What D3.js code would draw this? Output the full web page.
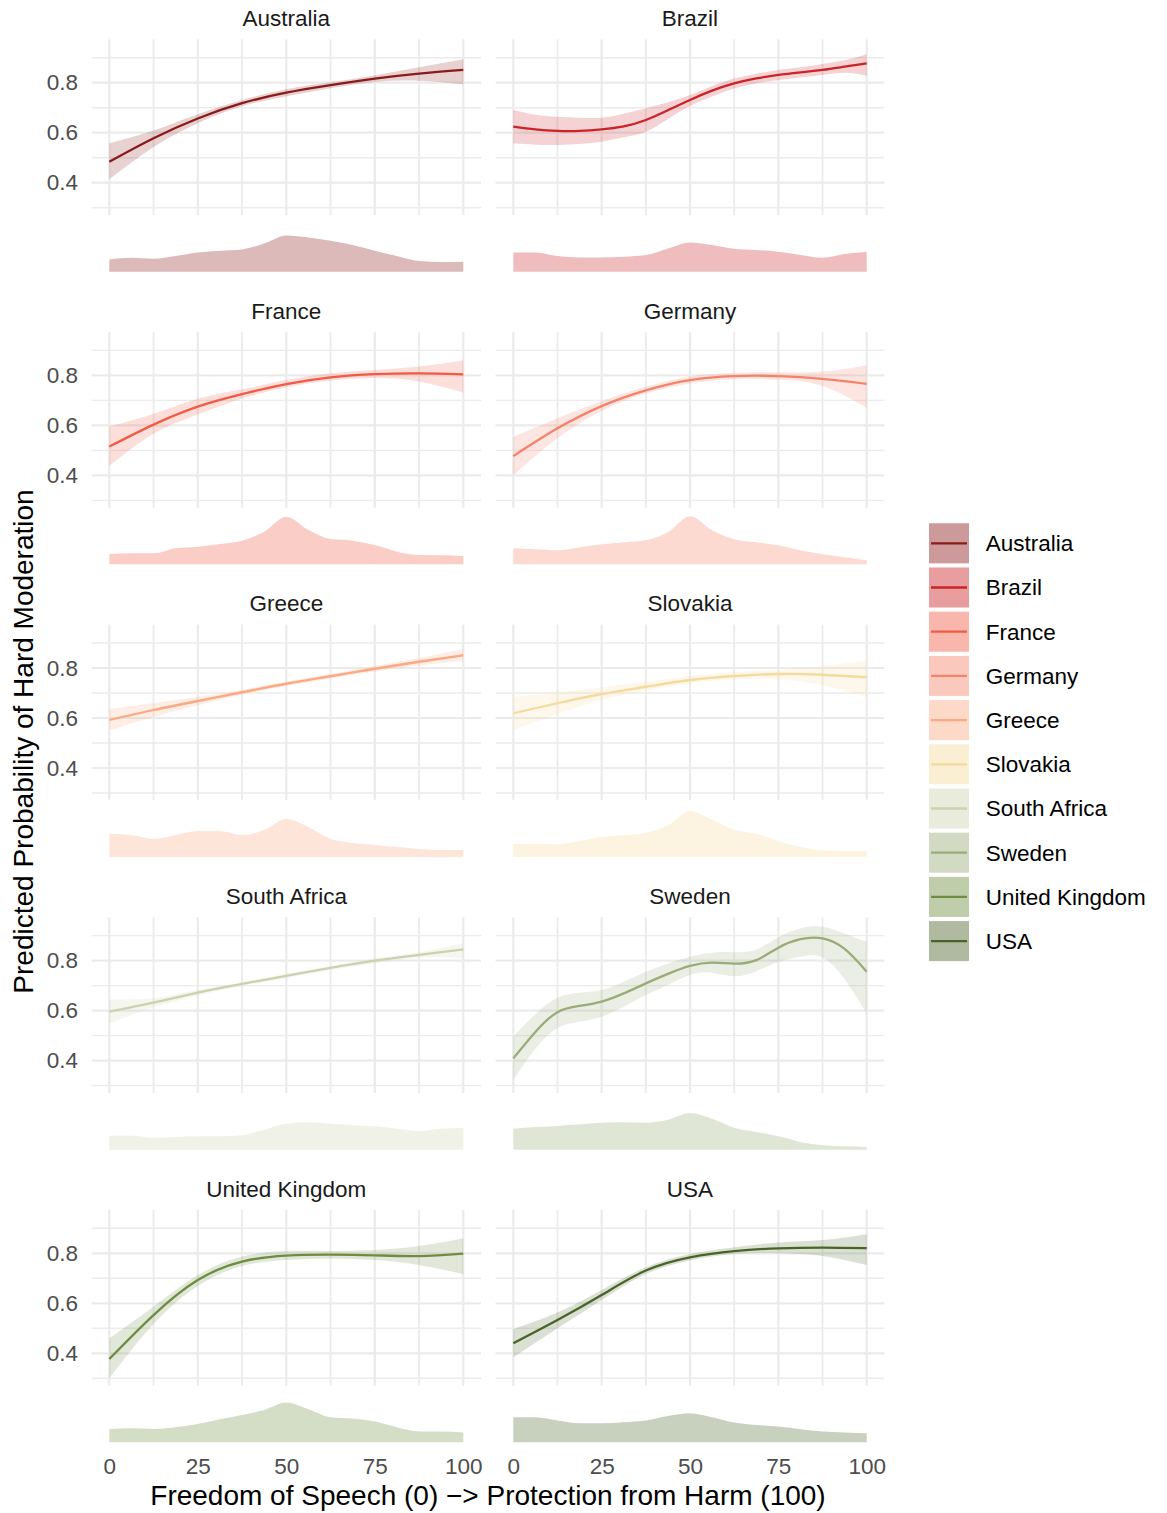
<!DOCTYPE html>
<html>
<head>
<meta charset="utf-8">
<title>Predicted Probability of Hard Moderation</title>
<script src="https://d3js.org/d3.v7.min.js"></script>
<style>
  body { margin: 0; background: #fff; }
  text { font-family: "Liberation Sans", Arial, sans-serif; }
</style>
</head>
<body>
<svg id="chart"></svg>
<script>
// ---- data ----
const countries = ["Australia", "Brazil", "France", "Germany", "Greece",
                   "Slovakia", "South Africa", "Sweden", "United Kingdom", "USA"];
const lineColors = ["#8b1a1a", "#cb2326", "#ef5b45", "#f4836a", "#fba883",
                    "#f5da9d", "#ccd1af", "#99ac78", "#6f8d42", "#4a6427"];

const xTicks = [0, 25, 50, 75, 100];
const yTicks = [0.4, 0.6, 0.8];
// x positions of fitted values
const xCoarse = [0, 12.5, 25, 37.5, 50, 62.5, 75, 87.5, 100];
const xFine = [0, 6.25, 12.5, 18.75, 25, 31.25, 37.5, 43.75, 50,
               56.25, 62.5, 68.75, 75, 81.25, 87.5, 93.75, 100];

// fitted probability, lower and upper band
const fitAustralia = [0.484, 0.578, 0.657, 0.718, 0.760, 0.790, 0.816, 0.836, 0.851];
const loAustralia  = [0.414, 0.543, 0.638, 0.706, 0.746, 0.778, 0.803, 0.808, 0.794];
const hiAustralia  = [0.558, 0.609, 0.674, 0.731, 0.774, 0.802, 0.830, 0.862, 0.894];

const fitBrazil = [0.624, 0.613, 0.607, 0.607, 0.613, 0.625, 0.651, 0.690, 0.731,
                   0.768, 0.797, 0.817, 0.831, 0.841, 0.851, 0.864, 0.877];
const loBrazil  = [0.558, 0.552, 0.551, 0.555, 0.564, 0.582, 0.604, 0.655, 0.707,
                   0.745, 0.777, 0.797, 0.811, 0.821, 0.831, 0.840, 0.828];
const hiBrazil  = [0.691, 0.672, 0.664, 0.660, 0.660, 0.676, 0.698, 0.722, 0.751,
                   0.787, 0.817, 0.836, 0.851, 0.862, 0.875, 0.890, 0.914];

const fitFrance = [0.515, 0.603, 0.675, 0.725, 0.765, 0.792, 0.805, 0.808, 0.804];
const loFrance  = [0.437, 0.566, 0.643, 0.707, 0.752, 0.779, 0.789, 0.775, 0.731];
const hiFrance  = [0.595, 0.646, 0.706, 0.744, 0.781, 0.808, 0.821, 0.835, 0.859];

const fitGermany = [0.477, 0.588, 0.677, 0.740, 0.781, 0.797, 0.797, 0.786, 0.766];
const loGermany  = [0.400, 0.548, 0.657, 0.727, 0.767, 0.784, 0.782, 0.757, 0.670];
const hiGermany  = [0.554, 0.628, 0.697, 0.754, 0.795, 0.810, 0.812, 0.815, 0.840];

const fitGreece = [0.592, 0.632, 0.668, 0.703, 0.737, 0.767, 0.797, 0.825, 0.851];
const loGreece  = [0.550, 0.604, 0.651, 0.693, 0.728, 0.758, 0.786, 0.810, 0.828];
const hiGreece  = [0.635, 0.660, 0.685, 0.713, 0.746, 0.776, 0.808, 0.840, 0.876];

const fitSlovakia = [0.619, 0.659, 0.696, 0.725, 0.752, 0.768, 0.776, 0.773, 0.763];
const loSlovakia  = [0.552, 0.616, 0.672, 0.709, 0.739, 0.755, 0.755, 0.732, 0.683];
const hiSlovakia  = [0.685, 0.701, 0.723, 0.745, 0.768, 0.784, 0.792, 0.808, 0.829];

const fitSouthAfrica = [0.596, 0.632, 0.672, 0.707, 0.739, 0.771, 0.800, 0.823, 0.845];
const loSouthAfrica  = [0.549, 0.614, 0.661, 0.700, 0.731, 0.764, 0.789, 0.812, 0.811];
const hiSouthAfrica  = [0.645, 0.650, 0.683, 0.714, 0.747, 0.778, 0.809, 0.834, 0.869];

const fitSweden = [0.409, 0.515, 0.594, 0.619, 0.636, 0.669, 0.709, 0.747, 0.779,
                   0.792, 0.788, 0.802, 0.852, 0.886, 0.889, 0.847, 0.756];
const loSweden  = [0.323, 0.448, 0.531, 0.556, 0.576, 0.616, 0.663, 0.703, 0.743,
                   0.752, 0.738, 0.758, 0.796, 0.816, 0.813, 0.726, 0.589];
const hiSweden  = [0.496, 0.586, 0.652, 0.672, 0.683, 0.716, 0.756, 0.789, 0.816,
                   0.832, 0.834, 0.845, 0.894, 0.929, 0.936, 0.909, 0.876];

const fitUK = [0.377, 0.553, 0.693, 0.767, 0.791, 0.795, 0.792, 0.789, 0.799];
const loUK  = [0.300, 0.517, 0.669, 0.749, 0.773, 0.779, 0.773, 0.753, 0.716];
const hiUK  = [0.460, 0.587, 0.713, 0.787, 0.809, 0.809, 0.813, 0.829, 0.860];

const fitUSA = [0.440, 0.533, 0.633, 0.731, 0.784, 0.809, 0.820, 0.823, 0.821];
const loUSA  = [0.384, 0.500, 0.613, 0.717, 0.771, 0.797, 0.800, 0.789, 0.753];
const hiUSA  = [0.497, 0.563, 0.653, 0.744, 0.797, 0.824, 0.843, 0.853, 0.876];

// density of respondents' position (relative units), at xFine
const densAustralia   = [12.3, 14, 13, 15.7, 19.3, 21, 22.3, 28.3, 36.3, 34.3, 31, 26.7, 21, 15.7, 10.7, 9.7, 10];
const densBrazil      = [19.3, 19.3, 15.7, 14.3, 14.3, 15, 16.7, 23.3, 29.3, 26.7, 23, 21.7, 20, 16.7, 14, 17.7, 19.7];
const densFrance      = [10.3, 11, 11, 16, 17.7, 20.3, 23.7, 32.7, 47.7, 34.3, 25.3, 23.7, 19.3, 12.7, 9.3, 9, 8.3];
const densGermany     = [16, 15, 14, 17, 20, 22, 24, 32, 48, 34, 25, 22, 19, 14, 10, 7, 4];
const densGreece      = [23, 22, 18, 22, 26, 26, 22, 27, 38, 30, 18, 14, 12, 10, 8, 7, 7];
const densSlovakia    = [12.7, 13.3, 12.7, 16, 20, 21.7, 24, 31.7, 46, 37.3, 27.3, 23.3, 16, 10, 6.7, 6, 6];
const densSouthAfrica = [14, 14, 12, 12.7, 13.3, 13.3, 14.3, 20, 26, 27.3, 26, 24.3, 23.3, 21, 18.7, 21, 21.7];
const densSweden      = [21, 22.7, 23.7, 25.3, 27, 27.3, 27, 30, 36.7, 31, 22, 17.7, 13.3, 7.7, 4.3, 3.3, 2.7];
const densUK          = [13, 14, 13.3, 15, 18.3, 23, 27.3, 32.3, 39.7, 33, 25, 23.7, 20.7, 15, 10.7, 10.7, 9.7];
const densUSA         = [25, 25, 21.7, 19, 19, 20, 21.7, 26.3, 29, 25, 19.7, 17.3, 15.7, 13, 10.7, 9.7, 9];

const fits  = [fitAustralia, fitBrazil, fitFrance, fitGermany, fitGreece, fitSlovakia, fitSouthAfrica, fitSweden, fitUK, fitUSA];
const lows  = [loAustralia, loBrazil, loFrance, loGermany, loGreece, loSlovakia, loSouthAfrica, loSweden, loUK, loUSA];
const highs = [hiAustralia, hiBrazil, hiFrance, hiGermany, hiGreece, hiSlovakia, hiSouthAfrica, hiSweden, hiUK, hiUSA];
const dens  = [densAustralia, densBrazil, densFrance, densGermany, densGreece, densSlovakia, densSouthAfrica, densSweden, densUK, densUSA];

// ---- layout ----
const W = 1167, H = 1513;
const rowStep = 292.65;
const colRange = [[109.3, 463.3], [513.3, 866.7]];
const expandX = 17.7;
const gridCol = "#ebebeb";
const textCol = "#4d4d4d";
const fontSmall = 22.5, fontTitle = 28;

const svg = d3.select("#chart").attr("width", W).attr("height", H);

const smooth = d3.curveNatural;
const densCurve = d3.curveMonotoneX;

countries.forEach((name, i) => {
    const row = Math.floor(i / 2), col = i % 2;
    const off = row * rowStep;
    const color = lineColors[i];
    const xs = fits[i].length === xFine.length ? xFine : xCoarse;

    const x = d3.scaleLinear().domain([0, 100]).range(colRange[col]);
    const y = d3.scaleLinear().domain([0.2708, 0.9736]).range([215 + off, 39.3 + off]);
    const yd = d3.scaleLinear().domain([0, 50]).range([271.7 + off, 221.7 + off]);

    const g = svg.append("g").attr("class", "facet");
    const x0 = x.range()[0] - expandX, x1 = x.range()[1] + expandX;

    // grid
    const grid = g.append("g").attr("class", "grid");
    grid.selectAll("line.h")
        .data([0.3, 0.4, 0.5, 0.6, 0.7, 0.8, 0.9])
        .join("line")
        .attr("x1", x0).attr("x2", x1)
        .attr("y1", d => y(d)).attr("y2", d => y(d))
        .attr("stroke", gridCol)
        .attr("stroke-width", d => yTicks.includes(d) ? 2.2 : 1.4);
    grid.selectAll("line.v")
        .data(xCoarse)
        .join("line")
        .attr("x1", d => x(d)).attr("x2", d => x(d))
        .attr("y1", y.range()[1]).attr("y2", y.range()[0])
        .attr("stroke", gridCol)
        .attr("stroke-width", d => xTicks.includes(d) ? 2.2 : 1.8);

    // ribbon + fit
    const band = xs.map((v, k) => ({ x: v, lo: lows[i][k], hi: highs[i][k], fit: fits[i][k] }));
    g.append("path")
        .datum(band)
        .attr("fill", color).attr("fill-opacity", 0.2)
        .attr("d", d3.area().curve(smooth).x(d => x(d.x)).y0(d => y(d.lo)).y1(d => y(d.hi)));
    g.append("path")
        .datum(band)
        .attr("fill", "none").attr("stroke", color).attr("stroke-width", 2.3)
        .attr("d", d3.line().curve(smooth).x(d => x(d.x)).y(d => y(d.fit)));

    // density
    const dd = xFine.map((v, k) => ({ x: v, d: dens[i][k] }));
    g.append("path")
        .datum(dd)
        .attr("fill", color).attr("fill-opacity", 0.3)
        .attr("d", d3.area().curve(densCurve).x(d => x(d.x)).y0(yd(0)).y1(d => yd(d.d)));

    // strip title
    g.append("text")
        .attr("x", (x0 + x1) / 2).attr("y", 26 + off)
        .attr("text-anchor", "middle")
        .attr("font-size", fontSmall).attr("fill", "#1a1a1a")
        .text(name);

    // y axis labels on left column
    if (col === 0) {
        const ay = g.append("g").attr("transform", `translate(${x0},0)`)
            .call(d3.axisLeft(y).tickValues(yTicks).tickSize(0).tickPadding(13.6).tickFormat(d3.format(".1f")));
        ay.select(".domain").remove();
        ay.selectAll("text").attr("font-size", fontSmall).attr("fill", textCol)
            .attr("font-family", "Liberation Sans, Arial, sans-serif");
        ay.attr("font-family", null).attr("font-size", null);
    }
    // x axis labels on bottom row
    if (row === 4) {
        const ax = g.append("g").attr("transform", `translate(0,${yd(0)})`)
            .call(d3.axisBottom(x).tickValues(xTicks).tickSize(0).tickPadding(16));
        ax.select(".domain").remove();
        ax.selectAll("text").attr("font-size", fontSmall).attr("fill", textCol)
            .attr("font-family", "Liberation Sans, Arial, sans-serif");
        ax.attr("font-family", null).attr("font-size", null);
    }
});

// axis titles
svg.append("text")
    .attr("x", 488).attr("y", 1505)
    .attr("text-anchor", "middle").attr("font-size", fontTitle).attr("fill", "#000")
    .text("Freedom of Speech (0) \u2212> Protection from Harm (100)");
svg.append("text")
    .attr("transform", "translate(33,741.5) rotate(-90)")
    .attr("text-anchor", "middle").attr("font-size", fontTitle).attr("fill", "#000")
    .text("Predicted Probability of Hard Moderation");

// legend
const legend = svg.append("g").attr("transform", "translate(929,523.3)");
const key = legend.selectAll("g").data(countries).join("g")
    .attr("transform", (d, k) => `translate(0,${k * 44.2})`);
key.append("rect").attr("width", 40).attr("height", 40)
    .attr("fill", (d, k) => lineColors[k]).attr("fill-opacity", 0.2);
key.append("rect").attr("width", 40).attr("height", 40)
    .attr("fill", (d, k) => lineColors[k]).attr("fill-opacity", 0.3);
key.append("line").attr("x1", 2).attr("x2", 38).attr("y1", 20).attr("y2", 20)
    .attr("stroke", (d, k) => lineColors[k]).attr("stroke-width", 2.3);
key.append("text").attr("x", 56.7).attr("y", 20).attr("dy", "0.35em")
    .attr("font-size", fontSmall).attr("fill", "#000")
    .text(d => d);
</script>
</body>
</html>
